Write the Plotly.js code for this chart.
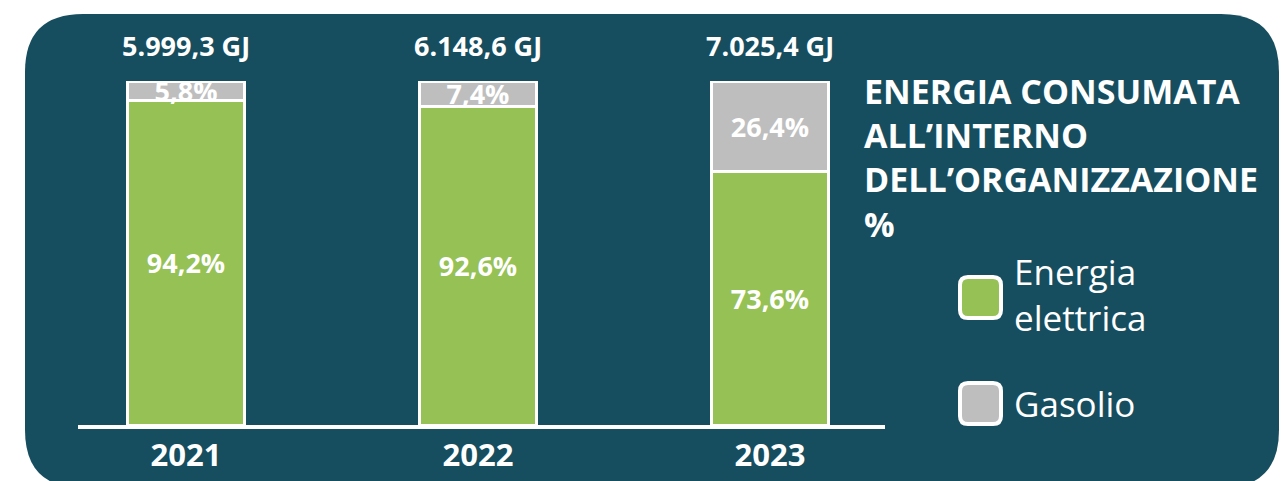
<!DOCTYPE html>
<html>
<head>
<meta charset="utf-8">
<script src="https://cdn.plot.ly/plotly-3.0.1.min.js"></script>
<style>
  html, body { margin: 0; padding: 0; background: #ffffff; }
  #chart { width: 1281px; height: 481px; }
</style>
</head>
<body>
<div id="chart"></div>
<script>
// ---- data ----
const years = ['2021', '2022', '2023'];
const elettrica = [94.2, 92.6, 73.6];
const gasolio = [5.8, 7.4, 26.4];
const totals = [5999.3, 6148.6, 7025.4];
const seriesNames = ['Energia elettrica', 'Gasolio'];
const legendLabels = ['Energia<br>elettrica', 'Gasolio'];
const titleText = 'ENERGIA CONSUMATA<br>ALL’INTERNO<br>DELL’ORGANIZZAZIONE<br>%';

// ---- style ----
const TEAL = '#164e5f';
const GREEN = '#96c155';
const GREY = '#bebebe';
const FONT = 'Open Sans, Noto Sans, sans-serif';

const W = 1281, H = 481;
const M = { l: 78, r: 396, t: 81, b: 56 };
const PW = W - M.l - M.r, PH = H - M.t - M.b;
const px = x => (x - M.l) / PW;
const py = y => (H - M.b - y) / PH;

function fmtIt(v) {
  const parts = v.toFixed(1).split('.');
  const intPart = parts[0].replace(/\B(?=(\d{3})+(?!\d))/g, '.');
  return intPart + ',' + parts[1];
}

function roundRect(x0, y0, x1, y1, r) {
  const p = (x, y) => px(x) + ',' + py(y);
  return 'M' + p(x0 + r, y0) +
    ' L' + p(x1 - r, y0) + ' Q' + p(x1, y0) + ' ' + p(x1, y0 + r) +
    ' L' + p(x1, y1 - r) + ' Q' + p(x1, y1) + ' ' + p(x1 - r, y1) +
    ' L' + p(x0 + r, y1) + ' Q' + p(x0, y1) + ' ' + p(x0, y1 - r) +
    ' L' + p(x0, y0 + r) + ' Q' + p(x0, y0) + ' ' + p(x0 + r, y0) + ' Z';
}

const barCommon = {
  type: 'bar',
  x: years,
  width: 0.40,
  textposition: 'inside',
  insidetextanchor: 'middle',
  textangle: 0,
  constraintext: 'none',
  texttemplate: '%{y:.1f}%',
  textfont: { family: FONT, size: 27, color: '#ffffff', weight: 'bold' },
  hoverinfo: 'skip'
};

const traces = [
  Object.assign({}, barCommon, {
    name: seriesNames[0], y: elettrica,
    marker: { color: GREEN, line: { color: '#ffffff', width: 3 } }
  }),
  Object.assign({}, barCommon, {
    name: seriesNames[1], y: gasolio,
    marker: { color: GREY, line: { color: '#ffffff', width: 3 } }
  })
];

const shapes = [
  { type: 'path', xref: 'paper', yref: 'paper', layer: 'below',
    path: roundRect(25, 14, 1279, 488, 58), fillcolor: TEAL, line: { width: 0 } },
  { type: 'path', xref: 'paper', yref: 'paper',
    path: roundRect(960, 277, 1001, 318, 8), fillcolor: GREEN, line: { color: '#ffffff', width: 4 } },
  { type: 'path', xref: 'paper', yref: 'paper',
    path: roundRect(960, 383, 1001, 424, 8), fillcolor: GREY, line: { color: '#ffffff', width: 4 } }
];

// category axis: annotation x given as category index
const annotations = years.map((yr, i) => ({
  x: i, y: 1, xref: 'x', yref: 'paper',
  text: fmtIt(totals[i]) + ' GJ',
  showarrow: false, yanchor: 'middle', yshift: 36,
  font: { family: FONT, size: 27, color: '#ffffff', weight: 'bold' }
}));

annotations.push({
  xref: 'paper', yref: 'paper', x: px(862), y: py(66), xanchor: 'left', yanchor: 'top',
  align: 'left', showarrow: false, text: titleText,
  font: { family: FONT, size: 34, color: '#ffffff', weight: 'bold' }
});
annotations.push({
  xref: 'paper', yref: 'paper', x: px(1012), y: py(294), xanchor: 'left', yanchor: 'middle',
  align: 'left', showarrow: false, text: legendLabels[0],
  font: { family: FONT, size: 35, color: '#ffffff' }
});
annotations.push({
  xref: 'paper', yref: 'paper', x: px(1012), y: py(403), xanchor: 'left', yanchor: 'middle',
  align: 'left', showarrow: false, text: legendLabels[1],
  font: { family: FONT, size: 35, color: '#ffffff' }
});

const layout = {
  width: W, height: H,
  margin: M,
  paper_bgcolor: '#ffffff',
  plot_bgcolor: 'rgba(0,0,0,0)',
  separators: ',.',
  barmode: 'stack',
  showlegend: false,
  xaxis: {
    type: 'category', range: [-0.37, 2.394], fixedrange: true,
    showline: true, linecolor: '#ffffff', linewidth: 4,
    showgrid: false, zeroline: false, ticks: '',
    tickfont: { family: FONT, size: 31, color: '#ffffff', weight: 'bold' }
  },
  yaxis: {
    range: [0, 100], visible: false, fixedrange: true, showgrid: false, zeroline: false
  },
  shapes: shapes,
  annotations: annotations
};

Plotly.newPlot('chart', traces, layout, { displayModeBar: false, staticPlot: true });
</script>
</body>
</html>
